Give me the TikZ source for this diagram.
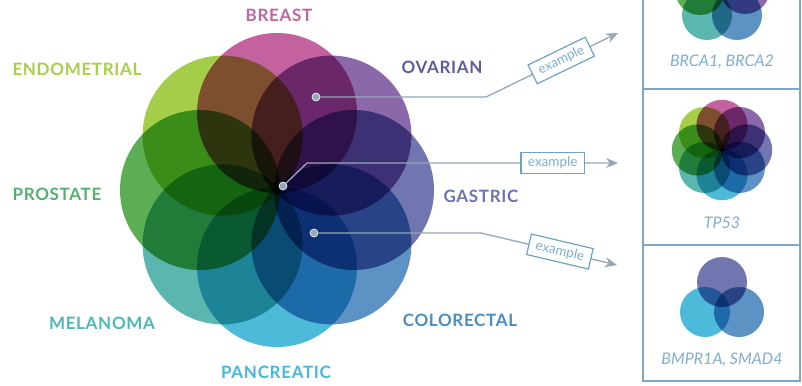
\documentclass[tikz,border=0pt]{standalone}
\usepackage{fontspec}
\setmainfont{Lato}
\usetikzlibrary{arrows.meta,positioning,calc}
\definecolor{ckbreast}{RGB}{196,98,160}
\definecolor{ckovar}{RGB}{138,104,170}
\definecolor{ckgast}{RGB}{114,118,176}
\definecolor{ckcolo}{RGB}{92,146,196}
\definecolor{ckpanc}{RGB}{78,186,218}
\definecolor{ckmela}{RGB}{92,182,176}
\definecolor{ckpros}{RGB}{92,174,84}
\definecolor{ckendo}{RGB}{164,206,74}
\definecolor{cklbreast}{RGB}{193,101,163}
\definecolor{cklovar}{RGB}{92,92,160}
\definecolor{cklgast}{RGB}{108,114,181}
\definecolor{cklcolo}{RGB}{74,140,200}
\definecolor{cklpanc}{RGB}{69,184,224}
\definecolor{cklmela}{RGB}{77,184,184}
\definecolor{cklpros}{RGB}{85,176,112}
\definecolor{cklendo}{RGB}{166,207,74}
\definecolor{ckline}{RGB}{150,168,182}
\definecolor{ckbox}{RGB}{111,163,198}
\definecolor{ckpanel}{RGB}{127,167,197}
\definecolor{ckgene}{RGB}{127,175,208}
\tikzset{
  petal/.style={blend mode=multiply},
  lbl/.style={font=\fontsize{17}{20}\selectfont\bfseries\addfontfeatures{LetterSpace=4}, inner sep=0pt},
  gene/.style={font=\fontsize{16}{19}\selectfont\itshape, text=ckgene, inner sep=0pt},
  dot/.style={circle, fill=ckline, draw=white, line width=0.6pt, inner sep=0pt, minimum size=8pt},
  arr/.style={-{Stealth[length=12pt,width=10pt]}, draw=ckline, line width=1.3pt},
  exbox/.style={draw=ckbox, fill=white, line width=1.2pt, text=ckgene,
    font=\fontsize{13.5}{15}\selectfont, inner xsep=7pt, inner ysep=3pt, minimum height=21pt},
  panel/.style={draw=ckpanel, line width=1.2pt}
}
\begin{document}
\begin{tikzpicture}[x=1pt,y=-1pt]
  \useasboundingbox (0,0) rectangle (802,385);
  \fill[white] (0,0) rectangle (802,385);

  % main flower
  \fill[petal, ckbreast] (277,113) circle (80);
  \fill[petal, ckovar] (331.4,135.6) circle (80);
  \fill[petal, ckgast] (354,190) circle (80);
  \fill[petal, ckcolo] (331.4,244.4) circle (80);
  \fill[petal, ckpanc] (277,267) circle (80);
  \fill[petal, ckmela] (222.6,244.4) circle (80);
  \fill[petal, ckpros] (200,190) circle (80);
  \fill[petal, ckendo] (222.6,135.6) circle (80);

  \node[lbl, text=cklbreast] (lbreast) at (279,15) {BREAST};
  \node[lbl, text=cklendo] (lendo) at (77,69) {ENDOMETRIAL};
  \node[lbl, text=cklovar] (lovar) at (442,67) {OVARIAN};
  \node[lbl, text=cklpros] (lpros) at (57,194) {PROSTATE};
  \node[lbl, text=cklgast] (lgast) at (481,196) {GASTRIC};
  \node[lbl, text=cklmela] (lmela) at (102,323) {MELANOMA};
  \node[lbl, text=cklcolo] (lcolo) at (460,320) {COLORECTAL};
  \node[lbl, text=cklpanc] (lpanc) at (276,372) {PANCREATIC};

  % panels
  \draw[panel] (643,-2) rectangle (800,381);
  \draw[panel] (643,89) -- (800,89);
  \draw[panel] (643,245) -- (800,245);

  \begin{scope}
    \clip (644,0) rectangle (799,88);
    \fill[petal, ckbreast] (757,-32) circle (25);
    \fill[petal, ckovar] (745,-11) circle (25);
    \fill[petal, ckpros] (700,-10) circle (25);
    \fill[petal, ckmela] (707,15) circle (25);
    \fill[petal, ckcolo] (737,15) circle (25);
  \end{scope}
  \node[gene] (gbrca) at (722,62) {BRCA1, BRCA2};

  \fill[petal, ckbreast] (722,125.4) circle (25.6);
  \fill[petal, ckovar] (739.4,132.6) circle (25.6);
  \fill[petal, ckgast] (746.6,150) circle (25.6);
  \fill[petal, ckcolo] (739.4,167.4) circle (25.6);
  \fill[petal, ckpanc] (722,174.6) circle (25.6);
  \fill[petal, ckmela] (704.6,167.4) circle (25.6);
  \fill[petal, ckpros] (697.4,150) circle (25.6);
  \fill[petal, ckendo] (704.6,132.6) circle (25.6);
  \node[gene] (gtp) at (722,223) {TP53};

  \fill[petal, ckgast] (722,282) circle (25);
  \fill[petal, ckpanc] (705,312) circle (25);
  \fill[petal, ckcolo] (739,312) circle (25);
  \node[gene] (gbmp) at (722,360) {BMPR1A, SMAD4};

  % connectors
  \node[dot] (dovar) at (316,97) {};
  \node[dot] (dcore) at (283,186) {};
  \node[dot] (dcolo) at (314,233) {};
  \coordinate (bovar) at (486,97);
  \coordinate (bcore) at (307,163);
  \coordinate (bcolo) at (481,233);
  \coordinate (tovar) at (618,33);
  \coordinate (tcore) at (618,163);
  \coordinate (tcolo) at (617,265);

  \draw[arr] (dovar) -- (bovar) -- node[exbox, sloped, pos=0.57] (xovar) {example} (tovar);
  \draw[arr] (dcore) -- (bcore) -- node[exbox, sloped, pos=0.79] (xcore) {example} (tcore);
  \draw[arr] (dcolo) -- (bcolo) -- node[exbox, sloped, pos=0.58] (xcolo) {example} (tcolo);
\end{tikzpicture}
\end{document}
